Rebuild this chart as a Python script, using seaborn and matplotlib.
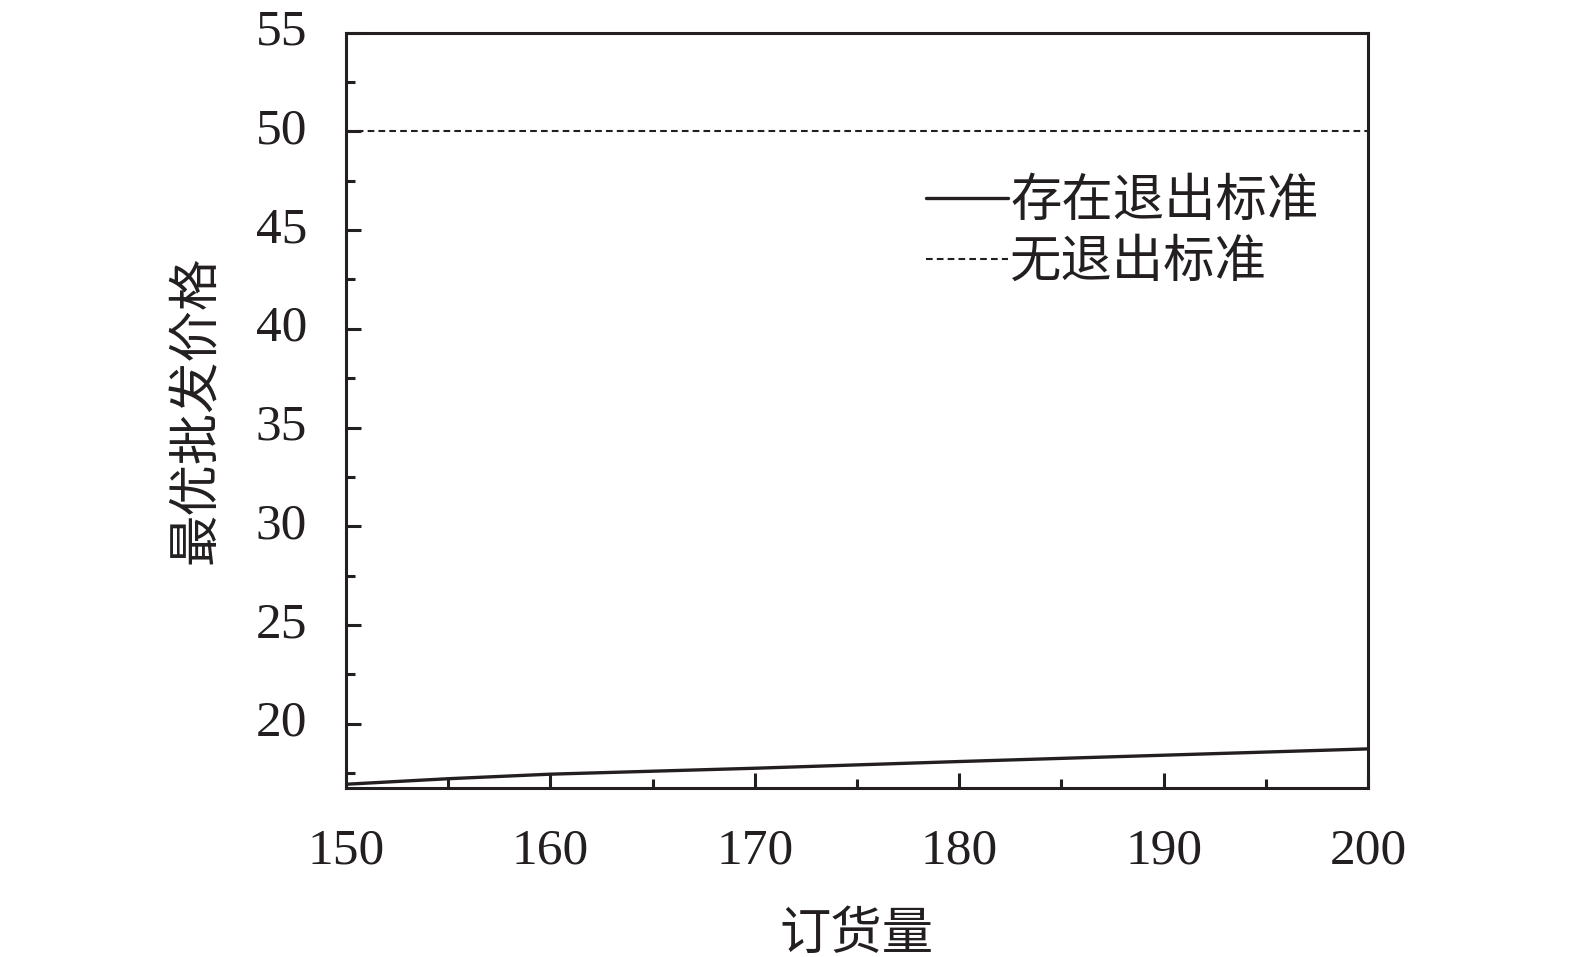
import numpy as np
import matplotlib
matplotlib.use("Agg")
import matplotlib.pyplot as plt
import matplotlib.transforms as mtransforms
import pandas as pd
import seaborn as sns
from matplotlib.ticker import MultipleLocator

# values
order_qty = [150, 155, 160, 165, 170, 175, 180, 185, 190, 195, 200]
price_exit = [16.94, 17.22, 17.45, 17.60, 17.75, 17.92, 18.09, 18.25, 18.41, 18.57, 18.73]
price_no_exit = [50, 50, 50, 50, 50, 50, 50, 50, 50, 50, 50]

LABELS = ["存在退出标准", "无退出标准"]
XLABEL = "订货量"
YLABEL = "最优批发价格"
INK = "#231f20"

sns.set_theme(style="ticks")
plt.rcParams["font.family"] = ["Liberation Serif", "Noto Sans CJK SC"]
plt.rcParams["axes.unicode_minus"] = False

df = pd.DataFrame({
    "q": order_qty * 2,
    "price": price_exit + price_no_exit,
    "case": [LABELS[0]] * len(order_qty) + [LABELS[1]] * len(order_qty),
})

fig = plt.figure(figsize=(15.75, 9.57), dpi=100)
ax = fig.add_axes([0.2197, 0.1766, 0.8686 - 0.2197, 0.966 - 0.1766])

DASH = (3.2, 2.0)
sns.lineplot(data=df, x="q", y="price", hue="case", style="case",
             palette={LABELS[0]: INK, LABELS[1]: INK},
             dashes={LABELS[0]: "", LABELS[1]: DASH},
             size="case", sizes={LABELS[0]: 2.4, LABELS[1]: 1.5},
             ax=ax, legend=False)

ax.set_xlim(150, 200)
ax.set_ylim(16.75, 55)
ax.xaxis.set_major_locator(MultipleLocator(10))
ax.xaxis.set_minor_locator(MultipleLocator(5))
ax.yaxis.set_minor_locator(MultipleLocator(2.5))
ax.set_yticks([20, 25, 30, 35, 40, 45, 50, 55])

for s in ax.spines.values():
    s.set_linewidth(2.2)
    s.set_color(INK)

ax.tick_params(axis="both", which="major", direction="in", length=11, width=2.2,
               color=INK, labelsize=37, labelcolor=INK)
ax.tick_params(axis="both", which="minor", direction="in", length=6.5, width=2.2,
               color=INK)
ax.tick_params(axis="y", which="major", pad=28)
ax.tick_params(axis="x", which="major", pad=29)

# nudge y tick labels up a little
shift = mtransforms.ScaledTranslation(0, 4 / 72, fig.dpi_scale_trans)
for lab in ax.get_yticklabels():
    lab.set_transform(lab.get_transform() + shift)

ax.set_xlabel(XLABEL, fontsize=37, color=INK, labelpad=27)
ax.set_ylabel(YLABEL, fontsize=37, color=INK, labelpad=24)

handles = [plt.Line2D([], [], color=INK, lw=2.4),
           plt.Line2D([], [], color=INK, lw=1.5, dashes=DASH)]
ax.legend(handles, LABELS, loc="upper left", bbox_to_anchor=(0.567, 0.805),
          frameon=False, fontsize=37, handlelength=1.6, handletextpad=0.05,
          labelspacing=0.25, borderaxespad=0, borderpad=0,
          labelcolor=INK)

fig.savefig("out.png", dpi=100)
